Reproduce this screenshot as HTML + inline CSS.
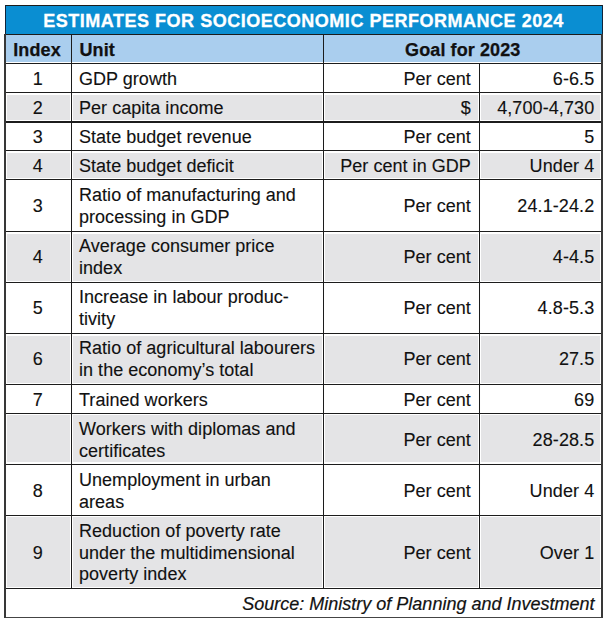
<!DOCTYPE html>
<html><head><meta charset="utf-8"><style>
html,body{margin:0;padding:0;background:#fff;width:607px;height:623px;overflow:hidden;position:relative}
.b{position:absolute}
.t{position:absolute;font-family:"Liberation Sans",sans-serif;white-space:nowrap;color:#111;line-height:21.6px}
.title{font-size:18.0px;font-weight:bold;color:#fff;letter-spacing:0.52px;-webkit-text-stroke:0.3px #fff}
.hd{font-size:18.0px;font-weight:bold;letter-spacing:0.1px;-webkit-text-stroke:0.25px #111}
.bd{font-size:18.0px;letter-spacing:0.03px;-webkit-text-stroke:0.12px #111}
.val{letter-spacing:0.1px}
.src{font-size:18.0px;font-style:italic;-webkit-text-stroke:0.2px #111}
</style></head><body>
<div class="b" style="left:5px;top:5px;width:598px;height:29.5px;background:rgb(10,142,210)"></div>
<div class="b" style="left:5.5px;top:34.5px;width:596.5px;height:27.5px;background:rgb(170,206,238)"></div>
<div class="b" style="left:7px;top:94.6px;width:63px;height:25.5px;background:rgb(228,228,230)"></div>
<div class="b" style="left:73px;top:94.6px;width:249px;height:25.5px;background:rgb(228,228,230)"></div>
<div class="b" style="left:325px;top:94.6px;width:153px;height:25.5px;background:rgb(228,228,230)"></div>
<div class="b" style="left:481px;top:94.6px;width:118.5px;height:25.5px;background:rgb(228,228,230)"></div>
<div class="b" style="left:7px;top:152.7px;width:63px;height:25.2px;background:rgb(228,228,230)"></div>
<div class="b" style="left:73px;top:152.7px;width:249px;height:25.2px;background:rgb(228,228,230)"></div>
<div class="b" style="left:325px;top:152.7px;width:153px;height:25.2px;background:rgb(228,228,230)"></div>
<div class="b" style="left:481px;top:152.7px;width:118.5px;height:25.2px;background:rgb(228,228,230)"></div>
<div class="b" style="left:7px;top:233.5px;width:63px;height:47.3px;background:rgb(228,228,230)"></div>
<div class="b" style="left:73px;top:233.5px;width:249px;height:47.3px;background:rgb(228,228,230)"></div>
<div class="b" style="left:325px;top:233.5px;width:153px;height:47.3px;background:rgb(228,228,230)"></div>
<div class="b" style="left:481px;top:233.5px;width:118.5px;height:47.3px;background:rgb(228,228,230)"></div>
<div class="b" style="left:7px;top:335.5px;width:63px;height:47px;background:rgb(228,228,230)"></div>
<div class="b" style="left:73px;top:335.5px;width:249px;height:47px;background:rgb(228,228,230)"></div>
<div class="b" style="left:325px;top:335.5px;width:153px;height:47px;background:rgb(228,228,230)"></div>
<div class="b" style="left:481px;top:335.5px;width:118.5px;height:47px;background:rgb(228,228,230)"></div>
<div class="b" style="left:7px;top:415.4px;width:63px;height:47px;background:rgb(228,228,230)"></div>
<div class="b" style="left:73px;top:415.4px;width:249px;height:47px;background:rgb(228,228,230)"></div>
<div class="b" style="left:325px;top:415.4px;width:153px;height:47px;background:rgb(228,228,230)"></div>
<div class="b" style="left:481px;top:415.4px;width:118.5px;height:47px;background:rgb(228,228,230)"></div>
<div class="b" style="left:7px;top:517.4px;width:63px;height:69.2px;background:rgb(228,228,230)"></div>
<div class="b" style="left:73px;top:517.4px;width:249px;height:69.2px;background:rgb(228,228,230)"></div>
<div class="b" style="left:325px;top:517.4px;width:153px;height:69.2px;background:rgb(228,228,230)"></div>
<div class="b" style="left:481px;top:517.4px;width:118.5px;height:69.2px;background:rgb(228,228,230)"></div>
<div class="b" style="left:5px;top:4.8px;width:598px;height:1.4px;background:#1c1c1c"></div>
<div class="b" style="left:5px;top:33.5px;width:598px;height:1.4px;background:#1c1c1c"></div>
<div class="b" style="left:5px;top:62.7px;width:598px;height:1.4px;background:#1c1c1c"></div>
<div class="b" style="left:5px;top:91.9px;width:598px;height:1.4px;background:#1c1c1c"></div>
<div class="b" style="left:5px;top:121.2px;width:598px;height:1.4px;background:#1c1c1c"></div>
<div class="b" style="left:5px;top:150px;width:598px;height:1.4px;background:#1c1c1c"></div>
<div class="b" style="left:5px;top:179px;width:598px;height:1.4px;background:#1c1c1c"></div>
<div class="b" style="left:5px;top:230.8px;width:598px;height:1.4px;background:#1c1c1c"></div>
<div class="b" style="left:5px;top:281.9px;width:598px;height:1.4px;background:#1c1c1c"></div>
<div class="b" style="left:5px;top:332.8px;width:598px;height:1.4px;background:#1c1c1c"></div>
<div class="b" style="left:5px;top:383.6px;width:598px;height:1.4px;background:#1c1c1c"></div>
<div class="b" style="left:5px;top:412.7px;width:598px;height:1.4px;background:#1c1c1c"></div>
<div class="b" style="left:5px;top:463.5px;width:598px;height:1.4px;background:#1c1c1c"></div>
<div class="b" style="left:5px;top:514.7px;width:598px;height:1.4px;background:#1c1c1c"></div>
<div class="b" style="left:5px;top:587.7px;width:598px;height:1.4px;background:#1c1c1c"></div>
<div class="b" style="left:5px;top:616.6px;width:598px;height:1.8px;background:#444"></div>
<div class="b" style="left:4.2px;top:34px;width:1.8px;height:584.4px;background:#383838"></div>
<div class="b" style="left:601.2px;top:34px;width:1.8px;height:584.4px;background:#383838"></div>
<div class="b" style="left:4.7px;top:5px;width:1.6px;height:29px;background:#10243a"></div>
<div class="b" style="left:601.7px;top:5px;width:1.6px;height:29px;background:#10243a"></div>
<div class="b" style="left:70.8px;top:34px;width:1.4px;height:554.4px;background:#1c1c1c"></div>
<div class="b" style="left:322.8px;top:34px;width:1.4px;height:554.4px;background:#1c1c1c"></div>
<div class="b" style="left:478.8px;top:63px;width:1.4px;height:525.4px;background:#1c1c1c"></div>
<div class="t title" style="left:-96.5px;width:800px;top:11px;text-align:center">ESTIMATES FOR SOCIOECONOMIC PERFORMANCE 2024</div>
<div class="t hd" style="left:-363px;width:800px;top:39.5px;text-align:center">Index</div>
<div class="t hd" style="left:79.5px;top:39.5px">Unit</div>
<div class="t hd" style="left:62.8px;width:800px;top:39.5px;text-align:center">Goal for 2023</div>
<div class="t bd" style="left:-362.2px;width:800px;top:69px;text-align:center">1</div>
<div class="t bd" style="left:79px;top:69px">GDP growth</div>
<div class="t bd" style="right:136.2px;top:69px;text-align:right">Per cent</div>
<div class="t bd val" style="right:12.7px;top:69px;text-align:right">6-6.5</div>
<div class="t bd" style="left:-362.2px;width:800px;top:98px;text-align:center">2</div>
<div class="t bd" style="left:79px;top:98px">Per capita income</div>
<div class="t bd" style="right:136.2px;top:98px;text-align:right">$</div>
<div class="t bd val" style="right:12.7px;top:98px;text-align:right">4,700-4,730</div>
<div class="t bd" style="left:-362.2px;width:800px;top:127px;text-align:center">3</div>
<div class="t bd" style="left:79px;top:127px">State budget revenue</div>
<div class="t bd" style="right:136.2px;top:127px;text-align:right">Per cent</div>
<div class="t bd val" style="right:12.7px;top:127px;text-align:right">5</div>
<div class="t bd" style="left:-362.2px;width:800px;top:156px;text-align:center">4</div>
<div class="t bd" style="left:79px;top:156px">State budget deficit</div>
<div class="t bd" style="right:136.2px;top:156px;text-align:right">Per cent in GDP</div>
<div class="t bd val" style="right:12.7px;top:156px;text-align:right">Under 4</div>
<div class="t bd" style="left:-362.2px;width:800px;top:196px;text-align:center">3</div>
<div class="t bd" style="left:79px;top:185px">Ratio of manufacturing and<br>processing in GDP</div>
<div class="t bd" style="right:136.2px;top:196px;text-align:right">Per cent</div>
<div class="t bd val" style="right:12.7px;top:196px;text-align:right">24.1-24.2</div>
<div class="t bd" style="left:-362.2px;width:800px;top:247px;text-align:center">4</div>
<div class="t bd" style="left:79px;top:236px">Average consumer price<br>index</div>
<div class="t bd" style="right:136.2px;top:247px;text-align:right">Per cent</div>
<div class="t bd val" style="right:12.7px;top:247px;text-align:right">4-4.5</div>
<div class="t bd" style="left:-362.2px;width:800px;top:298px;text-align:center">5</div>
<div class="t bd" style="left:79px;top:287px">Increase in labour produc-<br>tivity</div>
<div class="t bd" style="right:136.2px;top:298px;text-align:right">Per cent</div>
<div class="t bd val" style="right:12.7px;top:298px;text-align:right">4.8-5.3</div>
<div class="t bd" style="left:-362.2px;width:800px;top:349px;text-align:center">6</div>
<div class="t bd" style="left:79px;top:338px">Ratio of agricultural labourers<br>in the economy’s total</div>
<div class="t bd" style="right:136.2px;top:349px;text-align:right">Per cent</div>
<div class="t bd val" style="right:12.7px;top:349px;text-align:right">27.5</div>
<div class="t bd" style="left:-362.2px;width:800px;top:390px;text-align:center">7</div>
<div class="t bd" style="left:79px;top:390px">Trained workers</div>
<div class="t bd" style="right:136.2px;top:390px;text-align:right">Per cent</div>
<div class="t bd val" style="right:12.7px;top:390px;text-align:right">69</div>
<div class="t bd" style="left:79px;top:419px">Workers with diplomas and<br>certificates</div>
<div class="t bd" style="right:136.2px;top:430px;text-align:right">Per cent</div>
<div class="t bd val" style="right:12.7px;top:430px;text-align:right">28-28.5</div>
<div class="t bd" style="left:-362.2px;width:800px;top:481px;text-align:center">8</div>
<div class="t bd" style="left:79px;top:470px">Unemployment in urban<br>areas</div>
<div class="t bd" style="right:136.2px;top:481px;text-align:right">Per cent</div>
<div class="t bd val" style="right:12.7px;top:481px;text-align:right">Under 4</div>
<div class="t bd" style="left:-362.2px;width:800px;top:543px;text-align:center">9</div>
<div class="t bd" style="left:79px;top:521px">Reduction of poverty rate<br>under the multidimensional<br>poverty index</div>
<div class="t bd" style="right:136.2px;top:543px;text-align:right">Per cent</div>
<div class="t bd val" style="right:12.7px;top:543px;text-align:right">Over 1</div>
<div class="t src" style="right:12.5px;top:593.6px;text-align:right">Source: Ministry of Planning and Investment</div>
</body></html>
